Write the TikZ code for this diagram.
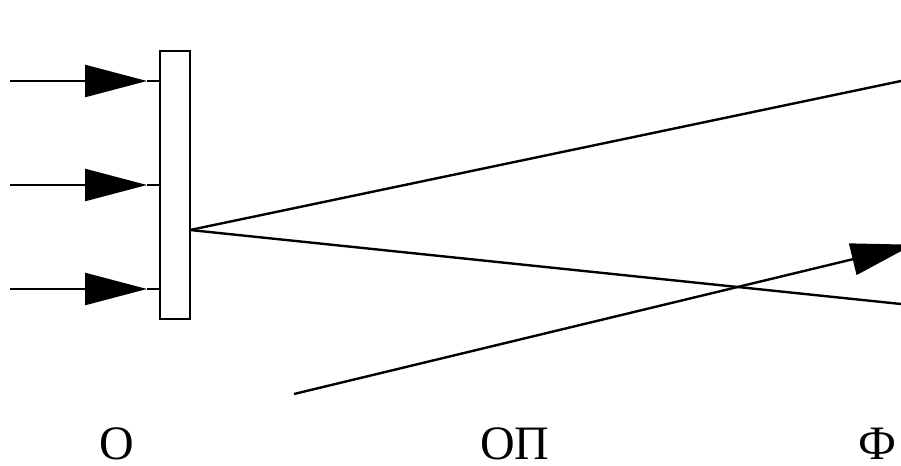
\documentclass[tikz,border=0pt]{standalone}
\usepackage{fontspec}
\setmainfont{Liberation Serif}
\usetikzlibrary{arrows.meta,positioning,calc}

\begin{document}
\begin{tikzpicture}[
    x=0.5pt,y=-0.5pt,
    line width=1.2pt,
    plate/.style={rectangle,draw,outer sep=0pt,minimum width=15pt,minimum height=134pt,inner sep=0pt},
    ray/.style={-{Triangle[length=31pt,width=16pt]}},
    lbl/.style={anchor=base,font=\fontsize{24}{28}\selectfont,inner sep=0pt}
]
    \clip (0,0) rectangle (901,466);

    \node[plate] (screen) at (175,185) {};

    % incoming rays
    \foreach \y [count=\i] in {81,185,289} {
        \coordinate (src\i) at (10,\y);
        \coordinate (tip\i) at (147,\y);
        \draw[ray] (src\i) -- (tip\i);
        \draw (tip\i) -- (screen.west |- tip\i);
    }

    \coordinate (focus) at (screen.east |- 0,230);
    \coordinate (up) at (901,81);
    \coordinate (down) at (901,304);
    \draw (focus) -- (up);
    \draw (focus) -- (down);

    \coordinate (back) at (294,394);
    \coordinate (out) at (913,244.7);
    \draw[ray] (back) -- (out);

    \node[lbl] (o) at (117,459) {О};
    \node[lbl] (op) at (515,459) {ОП};
    \node[lbl] (f) at (877,459) {Ф};
\end{tikzpicture}
\end{document}
